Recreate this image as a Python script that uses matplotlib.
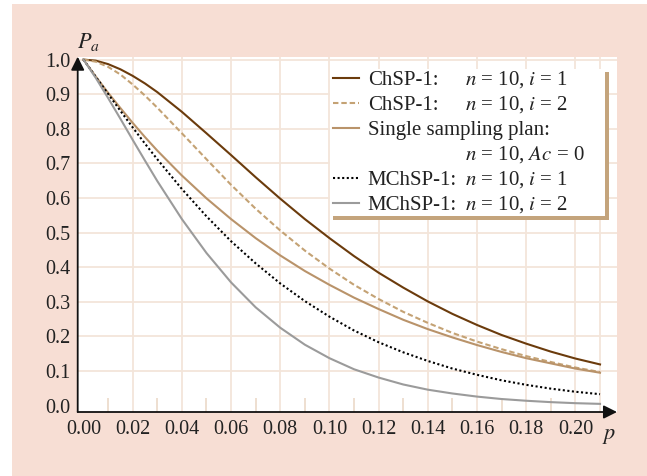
import matplotlib
matplotlib.use("Agg")
import matplotlib.pyplot as plt
from matplotlib.patches import Rectangle
from matplotlib.lines import Line2D

plt.rcParams['font.family'] = ['Liberation Serif', 'DejaVu Serif']
plt.rcParams['mathtext.fontset'] = 'stix'

# data
p = [0.000, 0.005, 0.010, 0.015, 0.020, 0.025, 0.03, 0.04, 0.05, 0.06, 0.07, 0.08, 0.09, 0.10,
     0.11, 0.12, 0.13, 0.14, 0.15, 0.16, 0.17, 0.18, 0.19, 0.20, 0.21]
chsp_i1 = [1.000, 0.997, 0.987, 0.972, 0.953, 0.931, 0.906, 0.849, 0.787, 0.724, 0.660, 0.598,
           0.539, 0.484, 0.432, 0.384, 0.341, 0.301, 0.265, 0.233, 0.204, 0.179, 0.156, 0.136,
           0.119]
chsp_i2 = [1.000, 0.994, 0.979, 0.957, 0.928, 0.896, 0.861, 0.787, 0.712, 0.638, 0.569, 0.506,
           0.448, 0.396, 0.349, 0.308, 0.271, 0.239, 0.210, 0.185, 0.163, 0.143, 0.126, 0.110,
           0.097]
single = [1.000, 0.951, 0.904, 0.860, 0.817, 0.776, 0.737, 0.665, 0.599, 0.539, 0.484, 0.434,
          0.389, 0.349, 0.312, 0.279, 0.248, 0.221, 0.197, 0.175, 0.155, 0.137, 0.122, 0.107,
          0.095]
mchsp_i1 = [1.000, 0.950, 0.901, 0.852, 0.804, 0.757, 0.712, 0.626, 0.547, 0.475, 0.411, 0.353,
            0.302, 0.257, 0.217, 0.183, 0.154, 0.129, 0.107, 0.089, 0.073, 0.060, 0.049, 0.040,
            0.033]
mchsp_i2 = [1.000, 0.947, 0.889, 0.829, 0.768, 0.708, 0.649, 0.539, 0.441, 0.356, 0.284, 0.225,
            0.176, 0.137, 0.105, 0.081, 0.061, 0.046, 0.035, 0.026, 0.019, 0.014, 0.010, 0.007,
            0.005]

xticks = [0.00, 0.02, 0.04, 0.06, 0.08, 0.10, 0.12, 0.14, 0.16, 0.18, 0.20]
xminor = [0.01, 0.03, 0.05, 0.07, 0.09, 0.11, 0.13, 0.15, 0.17, 0.19]
yticks = [0.0, 0.1, 0.2, 0.3, 0.4, 0.5, 0.6, 0.7, 0.8, 0.9, 1.0]

W, H = 647, 476
PINK = '#F7DED4'
GRID = '#F3E5DA'
BROWN = '#6B3B0C'
TAN_D = '#C4A274'
TAN = '#B9936A'
GRAY = '#9B9B9B'
SHADOW = '#C4A47C'
FS = 14.5
LFS = 15


def fx(x):
    return x / W


def fy(y):
    return 1 - y / H


fig = plt.figure(figsize=(W / 100, H / 100), dpi=100)
fig.patches.append(Rectangle((fx(12), 0), 1 - fx(12), fy(4), transform=fig.transFigure,
                             facecolor=PINK, edgecolor='none', zorder=-5))

ax = fig.add_axes([fx(77.7), fy(412), fx(617) - fx(77.7), fy(56.7) - fy(412)])
ax.set_facecolor('white')
ax.set_xlim(-0.00236, 0.2169)
ax.set_ylim(-0.0185, 1.0084)

for s in ax.spines.values():
    s.set_visible(False)

# grid
for yv in yticks[1:]:
    ax.axhline(yv, color=GRID, lw=1.3, zorder=1)
for xv in xticks[1:] + [0.21]:
    ax.axvline(xv, color=GRID, lw=1.3, zorder=1)

ax.set_xticks(xticks)
ax.set_xticklabels([f"{v:.2f}" for v in xticks])
ax.set_yticks(yticks)
ax.set_yticklabels([f"{v:.1f}" for v in yticks])
ax.set_xticks(xminor, minor=True)
ax.tick_params(axis='both', which='major', length=0, labelsize=FS, colors='#222222')
ax.tick_params(axis='x', which='major', pad=6)
ax.tick_params(axis='y', which='major', pad=5)
ax.tick_params(axis='x', which='minor', direction='in', length=10, width=1.3, color='#EDDCCD')

# curves
lw = 1.5
ax.plot(p, chsp_i1, color=BROWN, lw=lw, zorder=3)
ax.plot(p, chsp_i2, color=TAN_D, lw=lw, dashes=(2.6, 1.4), zorder=3)
ax.plot(p, single, color=TAN, lw=lw, zorder=3)
ax.plot(p, mchsp_i1, color='black', lw=lw, dashes=(1, 1.2), zorder=3)
ax.plot(p, mchsp_i2, color=GRAY, lw=lw, zorder=3)

# axes with arrows
ax.annotate('', xy=(1, 0), xytext=(0, 0), xycoords='axes fraction',
            arrowprops=dict(arrowstyle='-|>', color='#111111', lw=1.3, mutation_scale=20,
                            shrinkA=0, shrinkB=0), zorder=5, annotation_clip=False)
ax.annotate('', xy=(0, 1), xytext=(0, 0), xycoords='axes fraction',
            arrowprops=dict(arrowstyle='-|>', color='#111111', lw=1.3, mutation_scale=20,
                            shrinkA=0, shrinkB=0), zorder=5, annotation_clip=False)

fig.text(fx(88), fy(42), r'$P_a$', fontsize=16, ha='center', va='center', color='#222222')
fig.text(fx(609), fy(436), r'$p$', fontsize=16, ha='center', va='center', color='#222222')

# legend
fig.patches.append(Rectangle((fx(333), fy(219.5)), fx(609) - fx(333), fy(72) - fy(219.5),
                             transform=fig.transFigure, facecolor=SHADOW, edgecolor='none',
                             zorder=6))
fig.patches.append(Rectangle((fx(330), fy(215.5)), fx(604.5) - fx(330), fy(69) - fy(215.5),
                             transform=fig.transFigure, facecolor='white', edgecolor='none',
                             zorder=7))

rows = [78.3, 103.3, 128.3, 153.3, 178.3, 203.3]
handles = [dict(color=BROWN), dict(color=TAN_D, dashes=(2.6, 1.4)), dict(color=TAN), None,
           dict(color='black', dashes=(1, 1.2)), dict(color=GRAY)]
left_txt = ['ChSP-1:', 'ChSP-1:', 'Single sampling plan:', '', 'MChSP-1:', 'MChSP-1:']
right_txt = ['$n$ = 10, $i$ = 1', '$n$ = 10, $i$ = 2', '',
             '$n$ = 10, $Ac$ = 0', '$n$ = 10, $i$ = 1', '$n$ = 10, $i$ = 2']

for y, h, lt, rt in zip(rows, handles, left_txt, right_txt):
    if h is not None:
        fig.lines.append(Line2D([fx(333), fx(359)], [fy(y), fy(y)], transform=fig.transFigure,
                                lw=lw, zorder=8, **h))
    if lt:
        fig.text(fx(367.7), fy(y + 6.5), lt, fontsize=LFS, ha='left', va='baseline',
                 color='#222222', zorder=8)
    if rt:
        fig.text(fx(465), fy(y + 6.5), rt, fontsize=LFS, ha='left', va='baseline',
                 color='#222222', zorder=8)

fig.savefig('out.png', dpi=100, facecolor='white')
